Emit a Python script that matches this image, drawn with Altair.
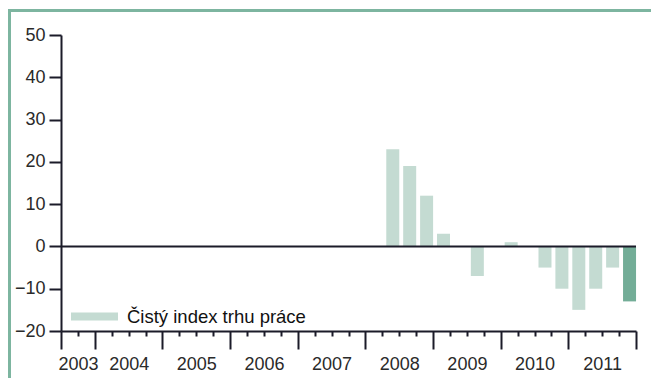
import altair as alt
import pandas as pd

# Quarterly net labour-market index (only quarters with a non-zero reading)
quarters = ["2008-Q2", "2008-Q3", "2008-Q4", "2009-Q1", "2009-Q3", "2010-Q1",
            "2010-Q3", "2010-Q4", "2011-Q1", "2011-Q2", "2011-Q3", "2011-Q4"]
values = [23, 19, 12, 3, -7, 1, -5, -10, -15, -10, -5, -13]

years = ["2003", "2004", "2005", "2006", "2007", "2008", "2009", "2010", "2011"]
y_ticks = [-20, -10, 0, 10, 20, 30, 40, 50]
series_name = "Čistý index trhu práce"

FIRST_YEAR, FIRST_Q = 2003, 3          # timeline starts at 2003 Q3
N_QUARTERS = 34                        # through 2011 Q4

LIGHT = "#c4dbd2"
DARK = "#73ad97"
FRAME = "#7db5a0"
INK = "#1b1b29"
FONT = "Liberation Sans"


def q_index(label):
    y, q = label.split("-Q")
    return (int(y) - FIRST_YEAR) * 4 + int(q) - FIRST_Q


df = pd.DataFrame({
    "quarter": quarters,
    "value": values,
    "series": series_name,
})
df["idx"] = df["quarter"].map(q_index)
df["mid"] = df["idx"] + 0.5
last_idx = int(df["idx"].max())

# year label sits at the middle of the span of quarters covered by that year
year_mid = {}
for y in years:
    start = max(0, (int(y) - FIRST_YEAR) * 4 + 1 - FIRST_Q)
    end = min(N_QUARTERS, (int(y) - FIRST_YEAR) * 4 + 5 - FIRST_Q)
    year_mid[(start + end) / 2] = y
label_expr = " : ".join(
    [f"datum.value == {k:g} ? '{v}'" for k, v in year_mid.items()] + ["''"]
)
year_starts = sorted({max(0, (int(y) - FIRST_YEAR) * 4 + 1 - FIRST_Q) for y in years} | {N_QUARTERS})
long_test = " || ".join(f"datum.value == {s}" for s in year_starts)

x_scale = alt.Scale(domain=[0, N_QUARTERS], nice=False, zero=False, padding=0)
y_scale = alt.Scale(domain=[-20, 50], nice=False)

x_axis = alt.Axis(
    values=list(range(N_QUARTERS + 1)),
    labelExpr=label_expr,
    title=None,
    grid=False,
    domainColor=INK, domainWidth=2,
    tickColor=INK, tickWidth=2,
    tickSize={"condition": {"test": long_test, "value": 18}, "value": 5},
    labelFont=FONT, labelFontSize=18, labelColor="#2a2a2a",
    labelPadding=19, labelBaseline="top",
    labelFlush=False, labelBound=False, labelOverlap=False,
)
y_axis = alt.Axis(
    values=y_ticks,
    title=None,
    grid=False,
    domainColor=INK, domainWidth=2,
    tickColor=INK, tickWidth=2, tickSize=12,
    labelFont=FONT, labelFontSize=18, labelColor="#2a2a2a",
    labelPadding=4,
)

legend = alt.Legend(
    title=None,
    orient="none",
    legendX=10,
    legendY=258,
    symbolType="M-1,-0.17L1,-0.17L1,0.17L-1,0.17Z",
    symbolSize=2209,
    symbolStrokeWidth=0,
    symbolOpacity=1,
    labelFont=FONT, labelFontSize=18.5, labelColor="#111111",
    labelOffset=9,
    labelLimit=0,
    padding=0,
)

bars = alt.Chart(df).mark_bar(width=13, xOffset=2).encode(
    x=alt.X("mid:Q", scale=x_scale, axis=x_axis),
    y=alt.Y("value:Q", scale=y_scale, axis=y_axis),
    color=alt.condition(
        f"datum.idx == {last_idx}",
        alt.value(DARK),
        alt.Color("series:N", scale=alt.Scale(domain=[series_name], range=[LIGHT]), legend=legend),
    ),
)

one = pd.DataFrame({"k": [0]})

zero_line = alt.Chart(one).mark_rule(color=INK, strokeWidth=2).encode(
    y=alt.datum(0, scale=y_scale)
)

frame_top = alt.Chart(one).mark_rule(color=FRAME, strokeWidth=3).encode(
    x=alt.value(-53), x2=alt.value(600), y=alt.value(-24.5)
)
frame_left = alt.Chart(one).mark_rule(color=FRAME, strokeWidth=3).encode(
    x=alt.value(-51.5), y=alt.value(-26), y2=alt.value(360)
)

chart = alt.layer(frame_top, frame_left, bars, zero_line).properties(
    width=575,
    height=296,
    autosize=alt.AutoSizeParams(type="none"),
    padding={"left": 61, "top": 35, "right": 15, "bottom": 47},
    background="white",
).configure_view(stroke=None)

chart.save("out.html", embed_options={"renderer": "svg", "actions": False})
